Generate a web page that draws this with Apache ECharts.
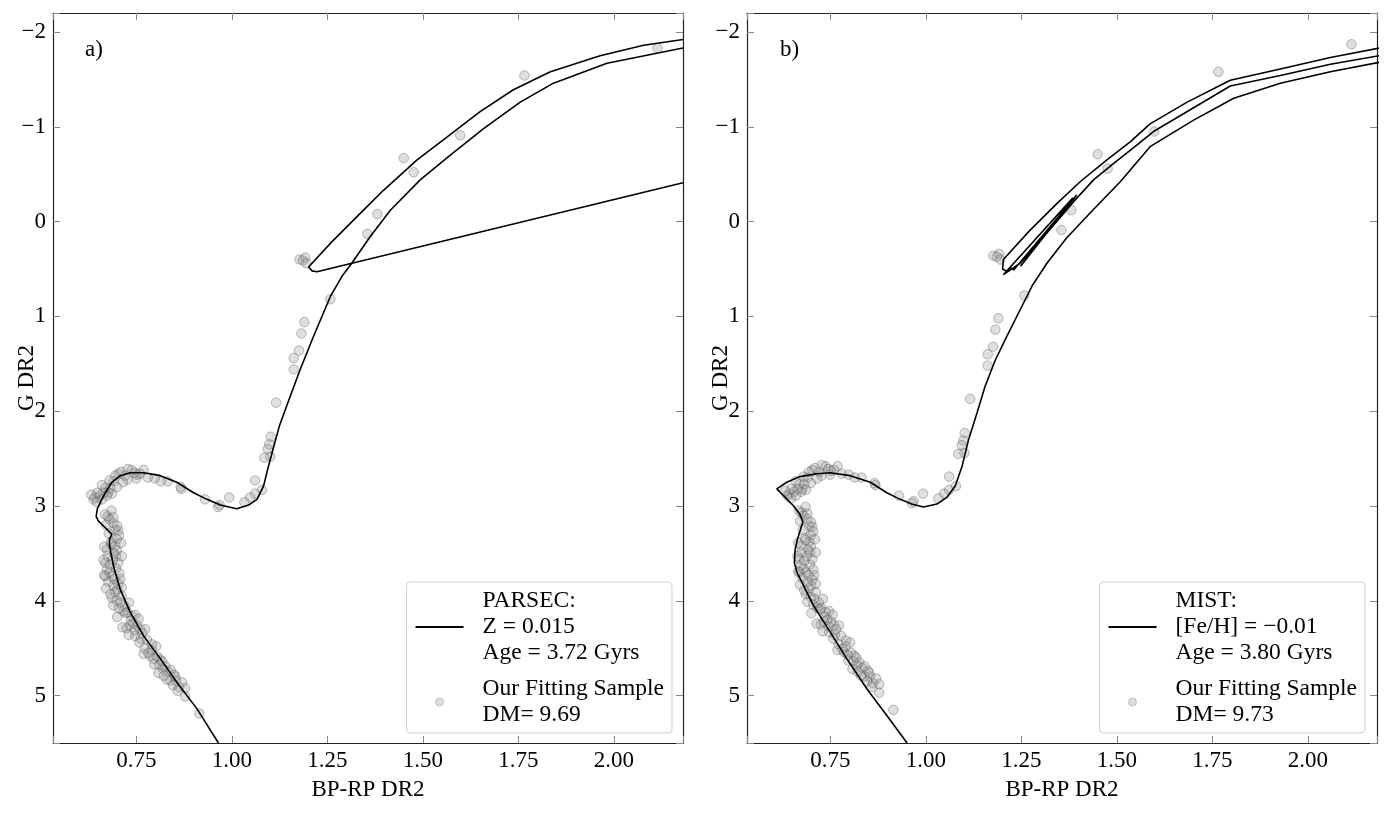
<!DOCTYPE html>
<html>
<head>
<meta charset="utf-8">
<title>CMD isochrone fits</title>
<script src="https://cdn.jsdelivr.net/npm/echarts@6/dist/echarts.min.js"></script>
<style>
  html, body { margin: 0; padding: 0; background: #fff; }
  #main { width: 1391px; height: 817px; }
</style>
</head>
<body>
<div id="main"></div>
<script>
// axis ranges and ticks
const xRange = [0.532, 2.181];
const yRange = [-2.2, 5.5];
const xTickStep = 0.25;
const yTickStep = 1;

// distance moduli of the two fits
const dmParsec = 9.69;
const dmMist = 9.73;

// fitting sample: [BP-RP, apparent G]
const sample = [
    [2.114, 7.86], [1.766, 8.15], [1.598, 8.78], [1.450, 9.02], [1.476, 9.17], [1.381, 9.61], [1.355, 9.82],
    [1.177, 10.09], [1.192, 10.07], [1.195, 10.13], [1.186, 10.10],
    [1.258, 10.51], [1.190, 10.75], [1.182, 10.87], [1.176, 11.05], [1.162, 11.13], [1.162, 11.25],
    [1.116, 11.60], [1.102, 11.96], [1.098, 12.04], [1.094, 12.09], [1.101, 12.17], [1.085, 12.18],
    [1.061, 12.42], [1.079, 12.52], [1.061, 12.56], [1.048, 12.60], [1.033, 12.65], [0.993, 12.60],
    [0.968, 12.68], [0.964, 12.70], [0.930, 12.62], [0.868, 12.51], [0.866, 12.49], [0.832, 12.43],
    [0.814, 12.43], [0.798, 12.40],
    [0.703, 12.35], [0.738, 12.31], [0.769, 12.31], [0.750, 12.40], [0.727, 12.41], [0.715, 12.44],
    [0.690, 12.43], [0.699, 12.49], [0.682, 12.50], [0.669, 12.50], [0.677, 12.55], [0.686, 12.56],
    [0.673, 12.58], [0.655, 12.58], [0.642, 12.60], [0.638, 12.62], [0.647, 12.65], [0.660, 12.62],
    [0.664, 12.55], [0.721, 12.37], [0.752, 12.36], [0.695, 12.37],
    [0.660, 12.47], [0.680, 12.42], [0.710, 12.33], [0.728, 12.30], [0.745, 12.34], [0.760, 12.35],
    [0.780, 12.39], [0.648, 12.55], [0.632, 12.57],
    [0.675, 12.80], [0.680, 12.83], [0.671, 12.89], [0.695, 12.94], [0.703, 12.95], [0.699, 13.04],
    [0.695, 13.11], [0.673, 13.15], [0.699, 13.16], [0.675, 13.22], [0.697, 13.22], [0.669, 13.29],
    [0.703, 13.29], [0.673, 13.36], [0.697, 13.35], [0.669, 13.43], [0.686, 13.43], [0.708, 13.46],
    [0.677, 13.49], [0.690, 13.53], [0.703, 13.51], [0.686, 13.66], [0.695, 13.60], [0.712, 13.64],
    [0.699, 13.69], [0.708, 13.71], [0.731, 13.71], [0.716, 13.80], [0.727, 13.81], [0.738, 13.85],
    [0.747, 13.84], [0.756, 13.88], [0.736, 13.90], [0.752, 13.95], [0.725, 13.98], [0.760, 13.99],
    [0.773, 13.99], [0.747, 14.06], [0.762, 14.09], [0.778, 14.10], [0.791, 14.15], [0.802, 14.17],
    [0.769, 14.25], [0.786, 14.27], [0.805, 14.28], [0.813, 14.31], [0.797, 14.36], [0.811, 14.37],
    [0.826, 14.38], [0.834, 14.44], [0.849, 14.47], [0.839, 14.53], [0.854, 14.53], [0.846, 14.58],
    [0.878, 14.61], [0.878, 14.70], [0.915, 14.88], [0.852, 14.49], [0.821, 14.41],
    [0.685, 12.74], [0.690, 12.87], [0.683, 13.07], [0.688, 13.26], [0.680, 13.39], [0.700, 13.57],
    [0.720, 13.75], [0.742, 13.93], [0.765, 14.03], [0.790, 14.21], [0.818, 14.33], [0.840, 14.42],
    [0.668, 12.78], [0.690, 12.81], [0.700, 12.90], [0.678, 12.98], [0.705, 13.00], [0.685, 13.09],
    [0.710, 13.08], [0.666, 13.12], [0.692, 13.19], [0.712, 13.22], [0.664, 13.26], [0.682, 13.31],
    [0.706, 13.40], [0.666, 13.42], [0.693, 13.46], [0.671, 13.56], [0.712, 13.55], [0.682, 13.62],
    [0.705, 13.77], [0.690, 13.74], [0.722, 13.82], [0.700, 13.86], [0.733, 13.95], [0.714, 13.97],
    [0.745, 14.00], [0.730, 14.05], [0.758, 14.13], [0.772, 14.19], [0.782, 14.24], [0.795, 14.30],
    [0.808, 14.45], [0.822, 14.48], [0.830, 14.52], [0.862, 14.60], [0.858, 14.64], [0.870, 14.55]
];

// PARSEC isochrone: MS -> SGB -> RGB
const parsecMain = [
    [0.965, 5.50], [0.909, 5.14], [0.856, 4.86], [0.813, 4.61], [0.769, 4.37], [0.734, 4.12],
    [0.708, 3.88], [0.690, 3.63], [0.680, 3.42], [0.680, 3.35], [0.686, 3.30], [0.669, 3.23],
    [0.651, 3.16], [0.645, 3.11], [0.648, 3.03], [0.656, 2.96], [0.669, 2.86], [0.686, 2.75],
    [0.708, 2.68], [0.734, 2.65], [0.769, 2.65], [0.813, 2.68], [0.856, 2.75], [0.900, 2.86],
    [0.935, 2.93], [0.970, 2.99], [1.013, 3.03], [1.044, 2.99], [1.066, 2.93], [1.083, 2.79],
    [1.096, 2.58], [1.110, 2.37], [1.125, 2.15], [1.145, 1.93], [1.179, 1.56], [1.214, 1.21],
    [1.258, 0.79], [1.288, 0.58], [1.314, 0.44], [1.362, 0.16], [1.415, -0.12], [1.493, -0.44],
    [1.572, -0.70], [1.659, -0.98], [1.755, -1.26], [1.842, -1.46], [1.982, -1.67], [2.181, -1.83]
];
// PARSEC: jump back from the RGB tip to the red clump, then AGB
const parsecHb = [
    [2.181, -0.41], [1.223, 0.53], [1.210, 0.52], [1.214, 0.50], [1.201, 0.48], [1.205, 0.49],
    [1.258, 0.23], [1.327, -0.05], [1.397, -0.33], [1.485, -0.65], [1.563, -0.89], [1.650, -1.16],
    [1.737, -1.39], [1.834, -1.58], [1.964, -1.75], [2.078, -1.86], [2.181, -1.92]
];

// MIST isochrone: MS -> SGB -> RGB
const mistMain = [
    [0.951, 5.50], [0.898, 5.21], [0.846, 4.93], [0.793, 4.61], [0.750, 4.33], [0.706, 4.05],
    [0.680, 3.84], [0.663, 3.70], [0.656, 3.60], [0.658, 3.46], [0.664, 3.35], [0.671, 3.26],
    [0.678, 3.17], [0.671, 3.09], [0.654, 3.00], [0.610, 2.82], [0.636, 2.75], [0.671, 2.69],
    [0.715, 2.66], [0.750, 2.65], [0.802, 2.68], [0.855, 2.75], [0.898, 2.86], [0.933, 2.93],
    [0.963, 2.98], [0.994, 3.01], [1.029, 2.98], [1.055, 2.91], [1.077, 2.79], [1.095, 2.58],
    [1.112, 2.30], [1.134, 2.02], [1.155, 1.74], [1.182, 1.46], [1.212, 1.21], [1.247, 0.93],
    [1.278, 0.68], [1.317, 0.44], [1.369, 0.17], [1.430, -0.09], [1.509, -0.42], [1.587, -0.79],
    [1.701, -1.07], [1.806, -1.30], [1.928, -1.46], [2.059, -1.58], [2.187, -1.68]
];
// MIST: upper branch down to the clump, He-burning loops, then AGB
const mistHb = [
    [2.187, -1.83], [2.059, -1.73], [1.928, -1.61], [1.797, -1.49], [1.684, -1.26], [1.587, -1.03],
    [1.535, -0.84], [1.474, -0.65], [1.404, -0.42], [1.343, -0.19], [1.273, 0.09], [1.203, 0.40],
    [1.201, 0.50], [1.214, 0.53], [1.222, 0.49], [1.230, 0.51], [1.395, -0.28], [1.248, 0.47],
    [1.385, -0.25], [1.203, 0.56], [1.247, 0.44], [1.317, 0.12], [1.387, -0.21], [1.439, -0.44],
    [1.491, -0.61], [1.553, -0.81], [1.596, -0.95], [1.701, -1.20], [1.797, -1.43], [1.928, -1.54],
    [2.059, -1.66], [2.187, -1.75]
];

const parsecName = 'PARSEC:\nZ = 0.015\nAge = 3.72 Gyrs';
const mistName = 'MIST:\n[Fe/H] = \u22120.01\nAge = 3.80 Gyrs';
const sampleNameA = 'Our Fitting Sample\nDM= 9.69';
const sampleNameB = 'Our Fitting Sample\nDM= 9.73';

const FONT = "'Liberation Serif', 'Times New Roman', serif";
const FS = 23;
const LEGEND_FS = 23.5;

function onStep(v, step) {
    return Math.abs(v / step - Math.round(v / step)) < 1e-6;
}

function xAxisFor(gridIndex, top) {
    return {
        type: 'value',
        gridIndex: gridIndex,
        position: top ? 'top' : 'bottom',
        min: xRange[0],
        max: xRange[1],
        splitNumber: 7,
        minInterval: xTickStep,
        maxInterval: xTickStep,
        name: top ? '' : 'BP-RP DR2',
        nameLocation: 'middle',
        nameGap: 35,
        nameMoveOverlap: false,
        nameTextStyle: { fontFamily: FONT, fontSize: FS, color: '#000' },
        axisLine: { onZero: false, lineStyle: { color: '#222', width: 1.2 } },
        axisTick: { inside: true, length: 7, lineStyle: { color: '#888', width: 1 } },
        axisLabel: {
            show: !top,
            margin: 6,
            fontFamily: FONT,
            fontSize: FS,
            color: '#000',
            formatter: function (v) { return onStep(v, xTickStep) ? v.toFixed(2) : ''; }
        },
        splitLine: { show: false }
    };
}

function yAxisFor(gridIndex, right) {
    return {
        type: 'value',
        gridIndex: gridIndex,
        position: right ? 'right' : 'left',
        inverse: true,
        min: yRange[0],
        max: yRange[1],
        splitNumber: 8,
        minInterval: yTickStep,
        maxInterval: yTickStep,
        name: right ? '' : 'G DR2',
        nameLocation: 'middle',
        nameRotate: 90,
        nameGap: 15,
        nameMoveOverlap: false,
        nameTextStyle: { fontFamily: FONT, fontSize: FS, color: '#000' },
        axisLine: { onZero: false, lineStyle: { color: '#222', width: 1.2 } },
        axisTick: { inside: true, length: 7, lineStyle: { color: '#888', width: 1 } },
        axisLabel: {
            show: !right,
            margin: 7,
            fontFamily: FONT,
            fontSize: FS,
            color: '#000',
            formatter: function (v) {
                if (!onStep(v, yTickStep)) return '';
                const n = Math.round(v);
                return n < 0 ? '\u2212' + (-n) : String(n);
            }
        },
        splitLine: { show: false }
    };
}

const pointStyle = {
    color: 'rgba(150,150,150,0.38)',
    borderColor: 'rgba(70,70,70,0.55)',
    borderWidth: 0.8
};
const isoLine = { color: '#000', width: 1.6 };

function scatterSeries(name, axisIndex, dm) {
    return {
        type: 'scatter',
        name: name,
        xAxisIndex: axisIndex,
        yAxisIndex: axisIndex,
        symbol: 'circle',
        symbolSize: 9.5,
        itemStyle: pointStyle,
        z: 2,
        data: sample.map(function (p) { return [p[0], +(p[1] - dm).toFixed(3)]; })
    };
}

function lineSeries(name, axisIndex, data) {
    return {
        type: 'line',
        name: name,
        xAxisIndex: axisIndex,
        yAxisIndex: axisIndex,
        symbol: 'none',
        smooth: false,
        lineStyle: isoLine,
        itemStyle: { color: '#000' },
        z: 3,
        data: data
    };
}

function legendFor(lineName, pointName, right) {
    return {
        orient: 'vertical',
        right: right,
        bottom: 84,
        data: [
            { name: lineName, itemStyle: { color: 'rgba(0,0,0,0)', borderWidth: 0, opacity: 0 } },
            { name: pointName, itemStyle: { borderWidth: 0.6 } }
        ],
        selectedMode: false,
        itemWidth: 48,
        itemHeight: 8,
        itemGap: 10,
        padding: [6, 8, 5, 8],
        backgroundColor: '#fff',
        borderColor: '#cfcfcf',
        borderWidth: 1,
        borderRadius: 4,
        textStyle: {
            fontFamily: FONT,
            fontSize: LEGEND_FS,
            lineHeight: 26,
            color: '#000',
            padding: [0, 0, 0, 14]
        }
    };
}

const chart = echarts.init(document.getElementById('main'));
chart.setOption({
    animation: false,
    backgroundColor: '#fff',
    grid: [
        { left: 53, top: 13, width: 630, height: 730, outerBoundsMode: 'none', containLabel: false },
        { left: 747, top: 13, width: 630, height: 730, outerBoundsMode: 'none', containLabel: false }
    ],
    xAxis: [xAxisFor(0, false), xAxisFor(0, true), xAxisFor(1, false), xAxisFor(1, true)],
    yAxis: [yAxisFor(0, false), yAxisFor(0, true), yAxisFor(1, false), yAxisFor(1, true)],
    legend: [
        legendFor(parsecName, sampleNameA, 719),
        legendFor(mistName, sampleNameB, 26)
    ],
    graphic: [
        { type: 'text', left: 85, top: 38, style: { text: 'a)', font: FS + 'px ' + FONT, fill: '#000' } },
        { type: 'text', left: 780, top: 38, style: { text: 'b)', font: FS + 'px ' + FONT, fill: '#000' } }
    ],
    series: [
        scatterSeries(sampleNameA, 0, dmParsec),
        lineSeries(parsecName, 0, parsecMain),
        lineSeries(parsecName, 0, parsecHb),
        scatterSeries(sampleNameB, 2, dmMist),
        lineSeries(mistName, 2, mistMain),
        lineSeries(mistName, 2, mistHb)
    ]
});
</script>
</body>
</html>
